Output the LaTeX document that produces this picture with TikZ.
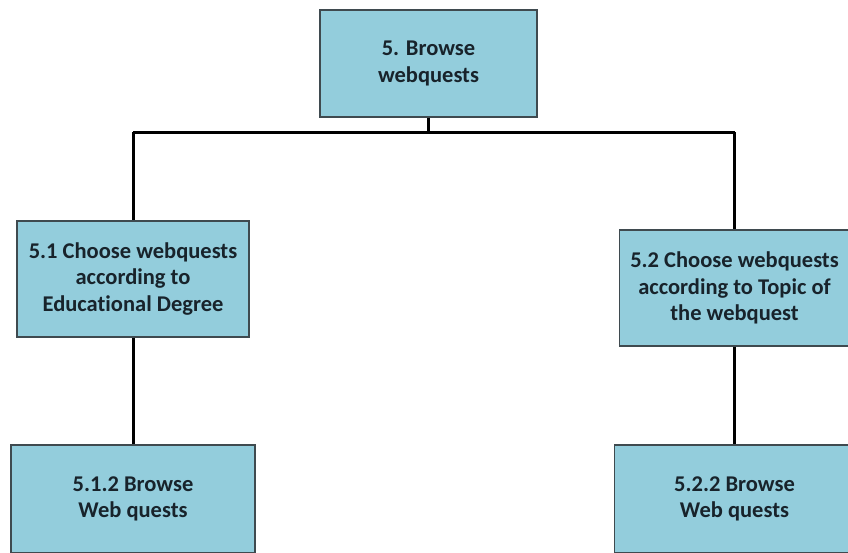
\documentclass[tikz,border=0pt]{standalone}
\usepackage{fontspec}
\setmainfont{Carlito}[Ligatures={NoCommon}]
\begin{document}
\begin{tikzpicture}[x=1pt,y=-1pt,
  taskbox/.style={draw=boxline, line width=1.3pt, fill=boxfill, text=boxtext,
    font=\fontsize{22.5}{26.5}\selectfont\bfseries, align=center,
    inner sep=0pt, minimum width=#1},
  link/.style={draw=black, line width=3pt}]
\definecolor{boxfill}{HTML}{93CDDC}
\definecolor{boxline}{HTML}{3F4A4F}
\definecolor{boxtext}{HTML}{18232B}
\useasboundingbox (0,0) rectangle (848,552);
\clip (0,0) rectangle (848,552);
\fill[white] (0,0) rectangle (848,552);

% tree boxes
\node[taskbox=217pt, minimum height=107pt] (root) at (428.5,63.5) {5. Browse\\webquests};
\node[taskbox=232pt, minimum height=116pt] (b51) at (133,279) {5.1 Choose webquests\\according to\\Educational Degree};
\node[taskbox=230pt, minimum height=116pt] (b52) at (734.5,288) {5.2 Choose webquests\\according to Topic of\\the webquest};
\node[taskbox=244pt, minimum height=108pt] (b512) at (133,499) {5.1.2 Browse\\Web quests};
\node[taskbox=240pt, minimum height=108pt] (b522) at (734.5,499) {5.2.2 Browse\\Web quests};

% bus joining the root to its two children
\coordinate (bus) at (428.5,132);
\coordinate (busL) at (133,132);
\coordinate (busR) at (734.5,132);
\draw[link] (root.south) -- (bus);
\draw[link] (busL) -- (busR);
\draw[link] (busL) -- (b51.north);
\draw[link] (busR) -- (b52.north);
\draw[link] (b51.south) -- (b512.north);
\draw[link] (b52.south) -- (b522.north);
\end{tikzpicture}
\end{document}
